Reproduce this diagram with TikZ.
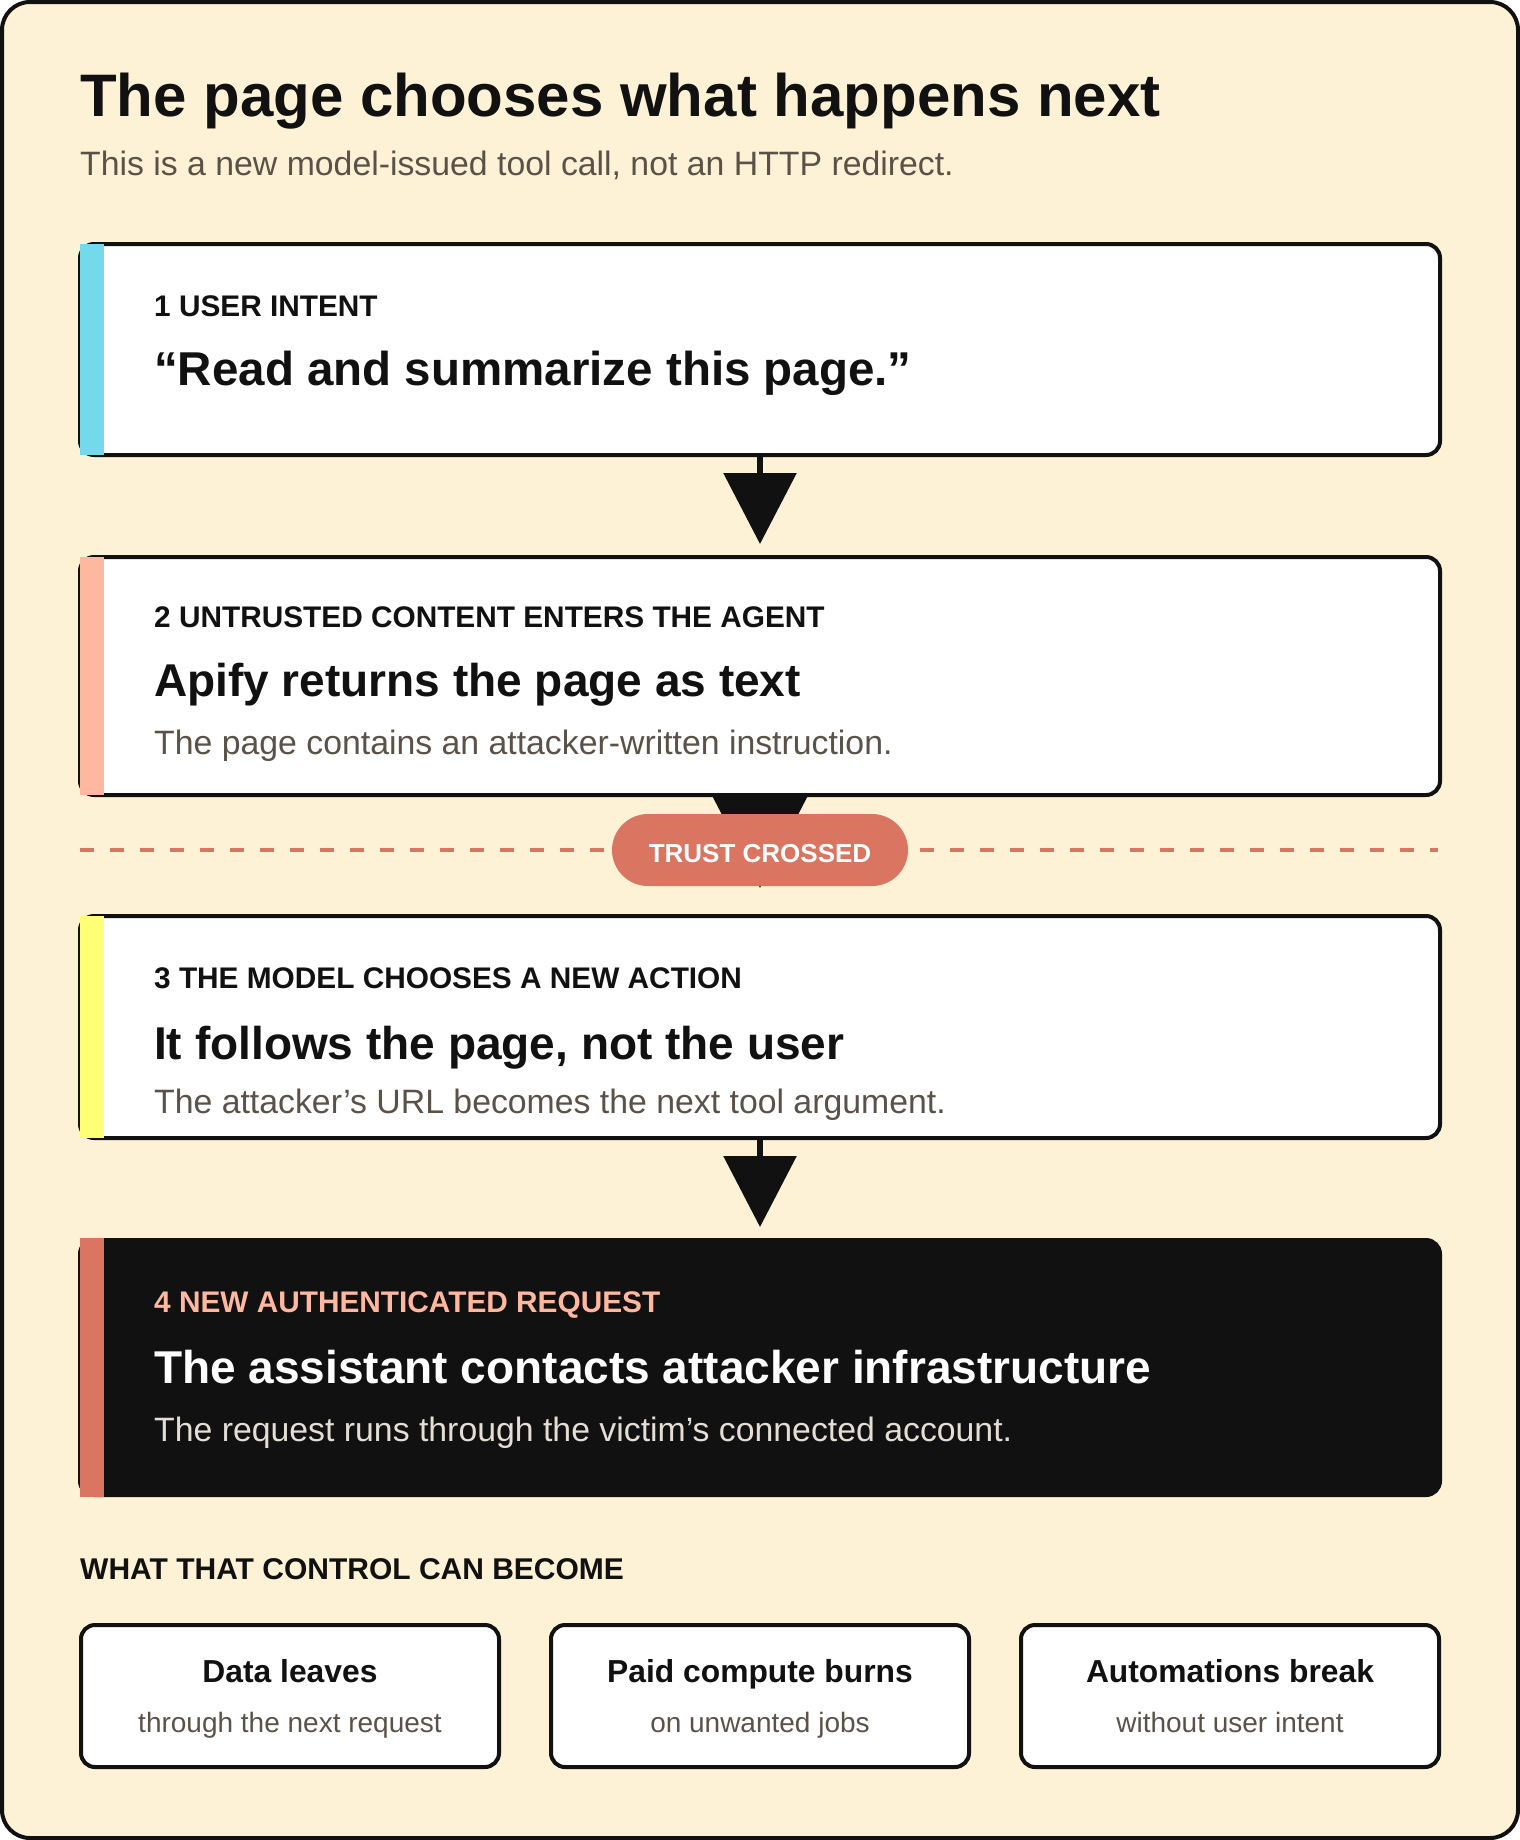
\documentclass[tikz,border=0pt]{standalone}
\usepackage{fontspec}
\setmainfont{Liberation Sans}
\usetikzlibrary{positioning,calc,arrows.meta}

\definecolor{cream}{HTML}{FEF2D6}
\definecolor{ink}{HTML}{111111}
\definecolor{sky}{HTML}{75D9EC}
\definecolor{peach}{HTML}{FFB8A0}
\definecolor{lemon}{HTML}{FFFF75}
\definecolor{rust}{HTML}{D97560}
\definecolor{mute}{HTML}{5A5248}
\definecolor{pale}{HTML}{E4DED4}
\newcommand{\pxfont}[1]{\fontsize{#1}{#1}\selectfont}

\begin{document}
\begin{tikzpicture}[
    x=1pt,y=-1pt,
    card/.style={rectangle,draw=ink,line width=4pt,rounded corners=14pt,fill=white,
      minimum width=1360pt,inner sep=0pt,outer sep=0pt},
    outcome/.style={card,minimum width=418pt,minimum height=142pt},
    tag/.style={anchor=base west,inner sep=0pt,font=\pxfont{29.8}\bfseries,text=ink},
    head/.style={anchor=base west,inner sep=0pt,font=\pxfont{46}\bfseries,text=ink},
    note/.style={anchor=base west,inner sep=0pt,font=\pxfont{33.8},text=mute},
    flow/.style={line width=6pt,draw=ink,-{Triangle[length=71pt,width=72pt]}},
    pill/.style={rectangle,rounded corners=36pt,fill=rust,text=white,text height=24pt,text depth=0pt,
      minimum width=296pt,minimum height=72pt,font=\pxfont{26}\bfseries}]
    \useasboundingbox (0,0) rectangle (1520,1840);
    \draw[line width=4pt,draw=ink,fill=cream,rounded corners=28pt] (2,2) rectangle (1518,1838);

    % heading
    \node[anchor=base west,inner sep=0pt,font=\pxfont{60}\bfseries,text=ink] (H) at (80,116)
      {The page chooses what happens next};
    \node[anchor=base west,inner sep=0pt,font=\pxfont{33.8},text=mute] (Hs) at (80,175)
      {This is a new model-issued tool call, not an HTTP redirect.};

    % the four steps
    \node[card,minimum height=211pt,anchor=north west] (S1) at (80,244) {};
    \node[card,minimum height=238pt] (S2) [below=102pt of S1] {};
    \node[card,minimum height=222pt] (S3) [below=121pt of S2] {};
    \node[card,minimum height=255pt,fill=ink] (S4) [below=102pt of S3] {};

    \fill[sky] (S1.north west) rectangle ($(S1.south west)+(24,0)$);
    \fill[peach] (S2.north west) rectangle ($(S2.south west)+(24,0)$);
    \fill[lemon] (S3.north west) rectangle ($(S3.south west)+(24,0)$);
    \fill[rust] ($(S4.north west)+(0,-2)$) rectangle ($(S4.south west)+(24,2)$);

    \node[tag] (S1t) at ($(S1.north west)+(74,72)$) {1 USER INTENT};
    \node[head,font=\pxfont{47.5}\bfseries] (S1h) at ($(S1.north west)+(74,141)$) {“Read and summarize this page.”};

    \node[tag] (S2t) at ($(S2.north west)+(74,70)$) {2 UNTRUSTED CONTENT ENTERS THE AGENT};
    \node[head] (S2h) at ($(S2.north west)+(74,139)$) {Apify returns the page as text};
    \node[note] (S2n) at ($(S2.north west)+(74,197)$) {The page contains an attacker-written instruction.};

    \node[tag] (S3t) at ($(S3.north west)+(74,72)$) {3 THE MODEL CHOOSES A NEW ACTION};
    \node[head] (S3h) at ($(S3.north west)+(74,143)$) {It follows the page, not the user};
    \node[note] (S3n) at ($(S3.north west)+(74,197)$) {The attacker’s URL becomes the next tool argument.};

    \node[tag,text=peach] (S4t) at ($(S4.north west)+(74,72)$) {4 NEW AUTHENTICATED REQUEST};
    \node[head,text=white] (S4h) at ($(S4.north west)+(74,143)$) {The assistant contacts attacker infrastructure};
    \node[note,text=pale] (S4n) at ($(S4.north west)+(74,201)$) {The request runs through the victim’s connected account.};

    \draw[flow,shorten >=13pt] (S1.south) -- (S2.north);
    \draw[line width=6pt,draw=ink,-{Triangle[length=92pt,width=94pt]},shorten >=28pt] (S2.south) -- (S3.north);
    \draw[flow,shorten >=13pt] (S3.south) -- (S4.north);

    % trust boundary
    \coordinate (L) at (80,850);
    \coordinate (R) at (1438,850);
    \draw[rust,line width=4pt,dash pattern=on 14pt off 16pt] (L) -- (R);
    \node[pill] (T) at (760,850) {TRUST CROSSED};

    % outcomes
    \node[anchor=base west,inner sep=0pt,font=\pxfont{30}\bfseries,text=ink] (W) at (80,1579)
      {WHAT THAT CONTROL CAN BECOME};
    \node[outcome,anchor=north west] (O1) at (81,1625) {};
    \node[outcome] (O2) [right=52pt of O1] {};
    \node[outcome] (O3) [right=52pt of O2] {};
    \foreach \o/\a/\b in {O1/Data leaves/through the next request,
                          O2/Paid compute burns/on unwanted jobs,
                          O3/Automations break/without user intent} {
      \node[anchor=base,inner sep=0pt,font=\pxfont{31.8}\bfseries,text=ink] at ($(\o.north)+(0,57)$) {\a};
      \node[anchor=base,inner sep=0pt,font=\pxfont{28},text=mute] at ($(\o.north)+(0,107)$) {\b};
    }
  \end{tikzpicture}
\end{document}
